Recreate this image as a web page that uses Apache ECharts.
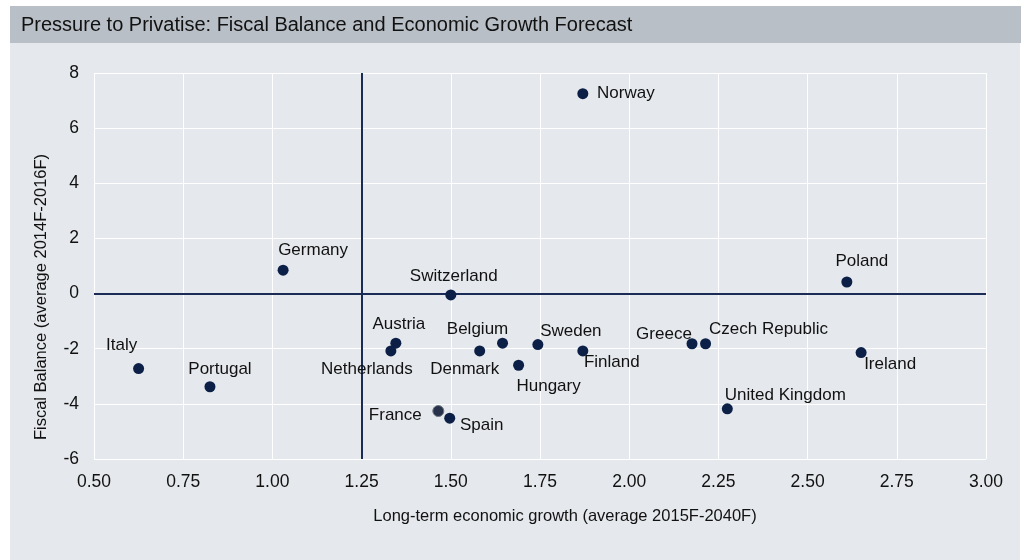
<!DOCTYPE html>
<html>
<head>
<meta charset="utf-8">
<script src="https://cdn.jsdelivr.net/npm/echarts@6/dist/echarts.min.js"></script>
<style>
  html, body { margin: 0; padding: 0; background: #ffffff; }
  #chart { width: 1024px; height: 560px; }
</style>
</head>
<body>
<div id="chart"></div>
<script>
// data
const countries = ["Norway", "Germany", "Switzerland", "Poland", "Italy", "Portugal", "Austria", "Netherlands",
  "Belgium", "Denmark", "Hungary", "Sweden", "Finland", "Greece", "Czech Republic", "Ireland",
  "United Kingdom", "France", "Spain"];
const growth = [1.87, 1.03, 1.50, 2.61, 0.625, 0.825, 1.346, 1.332,
  1.645, 1.581, 1.69, 1.744, 1.87, 2.176, 2.214, 2.65,
  2.275, 1.465, 1.497];
const fiscal = [7.25, 0.85, -0.05, 0.42, -2.72, -3.38, -1.8, -2.08,
  -1.8, -2.08, -2.6, -1.85, -2.08, -1.82, -1.82, -2.14,
  -4.18, -4.26, -4.52];
const xTicks = { min: 0.5, max: 3.0, interval: 0.25 };
const yTicks = { min: -6, max: 8, interval: 2 };
const refX = 1.25;
const refY = 0;

const titleText = "Pressure to Privatise: Fiscal Balance and Economic Growth Forecast";
const xName = "Long-term economic growth (average 2015F-2040F)";
const yName = "Fiscal Balance (average 2014F-2016F)";

// label offsets (px) from the dot centre
const labelOffsets = [[43, 0], [30, -20], [3, -19], [15, -21], [-17, -23], [10, -17], [3, -19], [-24, 18],
  [-25, -14], [-15, 18], [30, 21], [33, -13], [29, 11], [-28, -9], [63, -14], [29, 12],
  [58, -14], [-43, 4], [32, 7]];

const navy = "#0b1f47";
const font = "'Liberation Sans', Arial, sans-serif";

const chart = echarts.init(document.getElementById("chart"));

const points = countries.map((name, i) => {
  const p = {
    name: name,
    value: [growth[i], fiscal[i]],
    label: { offset: labelOffsets[i] },
  };
  if (name === "France") {
    p.itemStyle = { color: "#27324a", borderColor: "#6d7583", borderWidth: 1, opacity: 1 };
  }
  return p;
});

chart.setOption({
  animation: false,
  backgroundColor: "#ffffff",
  textStyle: { fontFamily: font },
  graphic: [
    { type: "rect", left: 10, top: 43, shape: { width: 1010, height: 517 }, style: { fill: "#e5e8ec" }, z: -10 },
    { type: "rect", left: 10, top: 6, shape: { width: 1011, height: 37 }, style: { fill: "#b9bfc6" }, z: -10 },
    {
      type: "text", x: 21, y: 25, z: 10,
      style: { text: titleText, fill: "#111", font: "20px " + font, textVerticalAlign: "middle" },
    },
    {
      type: "text", x: 565, y: 516, z: 10,
      style: { text: xName, fill: "#111", font: "16.5px " + font, textAlign: "center", textVerticalAlign: "middle" },
    },
    {
      type: "text", x: 41, y: 297, rotation: Math.PI / 2, z: 10,
      style: { text: yName, fill: "#111", font: "16.5px " + font, textAlign: "center", textVerticalAlign: "middle" },
    },
  ],
  grid: { left: 94, top: 73, width: 892, height: 386 },
  xAxis: {
    type: "value",
    min: xTicks.min, max: xTicks.max, interval: xTicks.interval,
    axisLine: { show: false },
    axisTick: { show: false },
    axisLabel: { color: "#111", fontSize: 17.5, margin: 14, formatter: (v) => v.toFixed(2) },
    splitLine: { show: true, lineStyle: { color: "#ffffff", width: 1 } },
  },
  yAxis: {
    type: "value",
    min: yTicks.min, max: yTicks.max, interval: yTicks.interval,
    axisLine: { show: false },
    axisTick: { show: false },
    axisLabel: { color: "#111", fontSize: 17.5, margin: 15 },
    splitLine: { show: true, lineStyle: { color: "#ffffff", width: 1 } },
  },
  series: [
    {
      type: "scatter",
      symbolSize: 11,
      itemStyle: { color: navy, opacity: 1 },
      label: {
        show: true,
        position: "inside",
        formatter: "{b}",
        color: "#111",
        fontSize: 17,
        fontFamily: font,
      },
      data: points,
      markLine: {
        silent: true,
        symbol: "none",
        label: { show: false },
        lineStyle: { color: "#1a2b55", width: 2, type: "solid", opacity: 1 },
        data: [{ xAxis: refX }, { yAxis: refY }],
        z: 1,
      },
      z: 3,
    },
  ],
});
</script>
</body>
</html>
